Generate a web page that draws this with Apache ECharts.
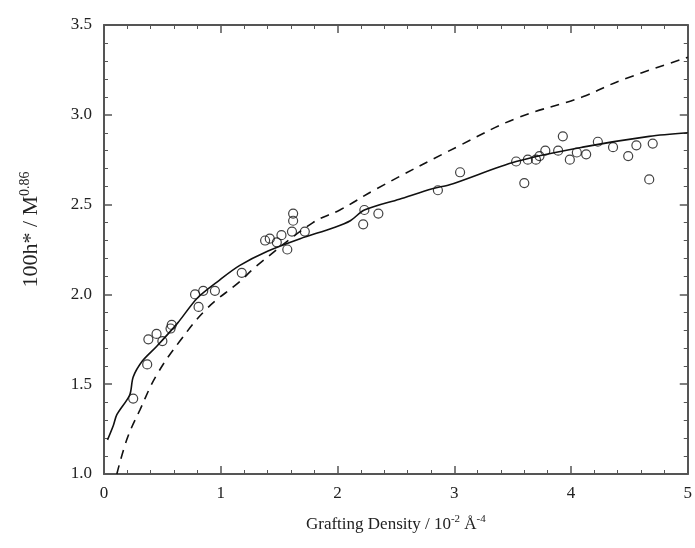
<!DOCTYPE html>
<html><head><meta charset="utf-8">
<script src="https://cdn.jsdelivr.net/npm/echarts@6/dist/echarts.min.js"></script>
<style>html,body{margin:0;padding:0;background:#fff}#c{width:695px;height:548px}</style>
</head><body><div id="c"></div>
<script>
var xTicks = [0, 1, 2, 3, 4, 5];
var yTicks = [1.0, 1.5, 2.0, 2.5, 3.0, 3.5];
var pointsX = [0.25,0.37,0.38,0.45,0.50,0.57,0.58,0.78,0.85,0.81,0.95,1.18,1.38,1.42,1.48,1.52,1.57,1.61,1.62,1.62,1.72,2.23,2.22,2.35,2.86,3.05,3.53,3.60,3.63,3.70,3.73,3.78,3.89,3.93,3.99,4.05,4.13,4.23,4.36,4.49,4.56,4.67,4.70];
var pointsY = [1.42,1.61,1.75,1.78,1.74,1.81,1.83,2.00,2.02,1.93,2.02,2.12,2.30,2.31,2.29,2.33,2.25,2.35,2.41,2.45,2.35,2.47,2.39,2.45,2.58,2.68,2.74,2.62,2.75,2.75,2.77,2.80,2.80,2.88,2.75,2.79,2.78,2.85,2.82,2.77,2.83,2.64,2.84];
var solidX = [0.03,0.08,0.11,0.22,0.25,0.33,0.45,0.63,0.80,0.99,1.16,1.40,1.68,1.96,2.11,2.23,2.53,2.82,2.96,3.53,4.10,4.67,5.00];
var solidY = [1.19,1.27,1.33,1.44,1.54,1.63,1.71,1.84,1.98,2.08,2.16,2.24,2.31,2.37,2.41,2.47,2.53,2.59,2.61,2.74,2.82,2.88,2.90];
var dashX = [0.11,0.20,0.31,0.45,0.65,0.88,1.16,1.31,1.79,2.02,2.34,3.05,3.53,4.10,4.42,5.00];
var dashY = [1.00,1.20,1.36,1.55,1.74,1.92,2.07,2.16,2.40,2.47,2.59,2.83,2.98,3.10,3.19,3.32];

function zip(a,b){return a.map(function(v,i){return [v,b[i]];});}
var ax = '#555';
var font = 'Liberation Serif';
var chart = echarts.init(document.getElementById('c'));
var baseAxis = {
  axisLine:{show:true,onZero:false,lineStyle:{color:ax,width:2}},
  axisTick:{show:true,inside:true,length:8,lineStyle:{color:ax,width:1.5}},
  minorTick:{show:true,splitNumber:5,length:4,lineStyle:{color:ax,width:1}},
  splitLine:{show:false}
};
chart.setOption({
  animation:false,
  backgroundColor:'#fff',
  grid:{left:104,right:7,top:25,bottom:74},
  xAxis:[
    Object.assign({type:'value',min:0,max:5,interval:1,position:'bottom',
      axisLabel:{color:'#222',fontFamily:font,fontSize:17,margin:11,formatter:function(v){return xTicks.indexOf(v)>=0?String(v):'';}},
      name:'{n|Grafting Density / 10}{s|-2}{n| Å}{s|-4}',nameLocation:'middle',nameGap:40,
      nameTextStyle:{rich:{n:{fontFamily:font,fontSize:17,color:'#222'},s:{fontFamily:font,fontSize:11,color:'#222',verticalAlign:'top',padding:[0,0,10,0]}}}
    },baseAxis),
    Object.assign({type:'value',min:0,max:5,interval:1,position:'top',axisLabel:{show:false}},baseAxis)
  ],
  yAxis:[
    Object.assign({type:'value',min:1,max:3.5,interval:0.5,position:'left',
      axisLabel:{color:'#222',fontFamily:font,fontSize:17,margin:12,formatter:function(v){return v.toFixed(1);}},
      name:'{n|100h* / M}{s|0.86}',nameLocation:'middle',nameGap:60,
      nameTextStyle:{padding:[0,0,0,40],rich:{n:{fontFamily:font,fontSize:22,color:'#222'},s:{fontFamily:font,fontSize:14,color:'#222',verticalAlign:'top',padding:[0,0,12,0]}}}
    },baseAxis),
    Object.assign({type:'value',min:1,max:3.5,interval:0.5,position:'right',axisLabel:{show:false}},baseAxis)
  ],
  series:[
    {type:'line',data:zip(solidX,solidY),smooth:0.3,showSymbol:false,lineStyle:{color:'#111',width:1.6},z:2},
    {type:'line',data:zip(dashX,dashY),smooth:0.4,showSymbol:false,lineStyle:{color:'#111',width:1.6,type:[9,7]},z:2},
    {type:'scatter',data:zip(pointsX,pointsY),symbol:'circle',symbolSize:9,
      itemStyle:{color:'rgba(255,255,255,0)',borderColor:'#111',borderWidth:1.2},z:3}
  ]
});
</script></body></html>
